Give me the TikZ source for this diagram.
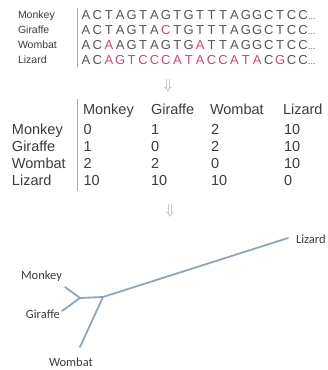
\documentclass[tikz,border=0pt]{standalone}
\usepackage{fontspec}
\setmainfont{Liberation Sans}
\newfontfamily\treefont{Carlito}
\definecolor{seqg}{RGB}{85,85,85}
\definecolor{seqr}{RGB}{205,70,110}
\definecolor{txt}{RGB}{60,60,60}
\definecolor{branch}{RGB}{145,165,185}
\definecolor{rulec}{RGB}{170,170,170}
\begin{document}
\begin{tikzpicture}[x=1pt,y=-1pt,
  every node/.style={inner sep=0pt,outer sep=0pt},
  seqname/.style={anchor=base west,font=\fontsize{10.5}{12}\selectfont,text=txt},
  letter/.style={anchor=base,font=\fontsize{13}{15}\selectfont},
  cell/.style={anchor=base west,font=\fontsize{14.5}{17}\selectfont,text=txt},
  tlabel/.style={anchor=base west,font=\treefont\fontsize{12.5}{15}\selectfont,text=txt},
  br/.style={draw=branch,line width=1.8pt,line cap=round,line join=round},
  sepline/.style={draw=rulec,line width=0.6pt},
  darr/.style={text=gray!70,font=\fontsize{14}{16}\selectfont}]
\useasboundingbox (0,0) rectangle (328,370);

% --- sequences ---
\foreach \nm/\yy in {Monkey/15,Giraffe/30,Wombat/45,Lizard/60}
  \node[seqname] (n-\nm) at (18,\yy+3.8) {\nm};
\coordinate (vs1) at (77,8); \coordinate (vs2) at (77,67);
\draw[sepline] (vs1) -- (vs2);

\foreach \ch/\c [count=\i] in {A/g,C/g,T/g,A/g,G/g,T/g,A/g,G/g,T/g,G/g,T/g,T/g,T/g,A/g,G/g,G/g,C/g,T/g,C/g,C/g}
  \node[letter,text=seq\c] (m\i) at ({86+11.42*(\i-1)},19.6) {\ch};
\foreach \ch/\c [count=\i] in {A/g,C/g,T/g,A/g,G/g,T/g,A/g,C/r,T/g,G/g,T/g,T/g,T/g,A/g,G/g,G/g,C/g,T/g,C/g,C/g}
  \node[letter,text=seq\c] (g\i) at ({86+11.42*(\i-1)},34.6) {\ch};
\foreach \ch/\c [count=\i] in {A/g,C/g,A/r,A/g,G/g,T/g,A/g,G/g,T/g,G/g,A/r,T/g,T/g,A/g,G/g,G/g,C/g,T/g,C/g,C/g}
  \node[letter,text=seq\c] (w\i) at ({86+11.42*(\i-1)},49.6) {\ch};
\foreach \ch/\c [count=\i] in {A/g,C/g,A/r,G/r,T/r,C/r,C/r,C/r,A/r,T/r,A/r,C/r,C/r,A/r,T/r,A/r,C/g,G/r,C/g,C/g}
  \node[letter,text=seq\c] (l\i) at ({86+11.42*(\i-1)},64.6) {\ch};
\foreach \r/\yy in {m/19.6,g/34.6,w/49.6,l/64.6}
  \node[anchor=base west,font=\fontsize{9}{10}\selectfont,text=seqg] (\r dots) at (308,\yy) {...};

\node[darr] (arr1) at (168,86) {$\Downarrow$};

% --- distance table ---
\node[cell] (h1) at (83,114) {Monkey};
\node[cell] (h2) at (151,114) {Giraffe};
\node[cell] (h3) at (210,114) {Wombat};
\node[cell] (h4) at (283,114) {Lizard};
\coordinate (vt1) at (77,99); \coordinate (vt2) at (77,191);
\draw[sepline] (vt1) -- (vt2);
\foreach \nm/\yy/\a/\b/\c/\d in {Monkey/134.5/0/1/2/10,Giraffe/151.5/1/0/2/10,Wombat/168.5/2/2/0/10,Lizard/185.5/10/10/10/0}{
  \node[cell] (r-\nm) at (12,\yy) {\nm};
  \node[cell] (c1-\nm) at (83.5,\yy) {\a};
  \node[cell] (c2-\nm) at (151,\yy) {\b};
  \node[cell] (c3-\nm) at (211,\yy) {\c};
  \node[cell] (c4-\nm) at (284,\yy) {\d};
}

\node[darr] (arr2) at (170,211) {$\Downarrow$};

% --- tree ---
\coordinate (jA) at (80,298);
\coordinate (jB) at (103,297);
\coordinate (eM) at (65,287);
\coordinate (eG) at (62,311);
\coordinate (eW) at (80,347);
\coordinate (eL) at (288,238);
\draw[br] (eM) -- (jA) -- (eG);
\draw[br] (jA) -- (jB) -- (eL);
\draw[br] (jB) -- (eW);
\node[tlabel] (tL) at (296,243.5) {Lizard};
\node[tlabel] (tM) at (21,279) {Monkey};
\node[tlabel] (tG) at (26,318) {Giraffe};
\node[tlabel] (tW) at (49,366) {Wombat};
\end{tikzpicture}
\end{document}
